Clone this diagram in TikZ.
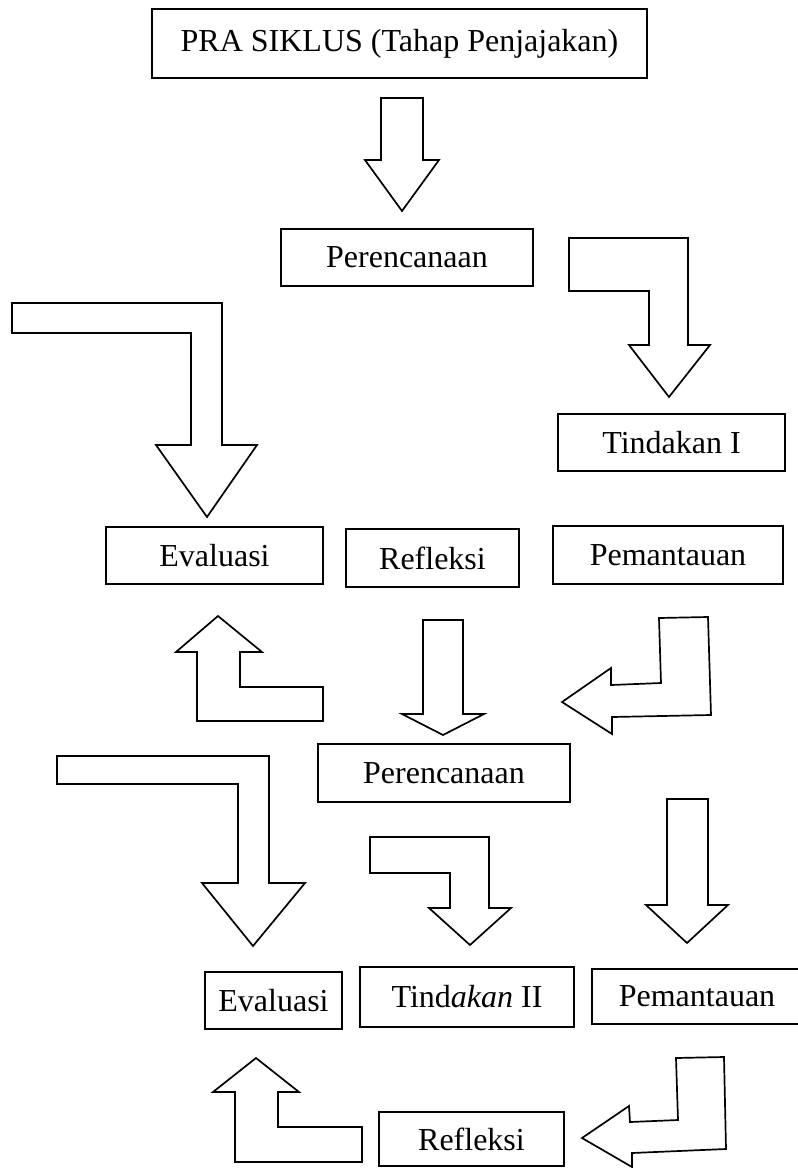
\documentclass[tikz,border=0pt]{standalone}
\usepackage{fontspec}
\setmainfont{Liberation Serif}
\usepackage{tikz}
\usetikzlibrary{positioning}

\tikzset{
  box/.style={draw, line width=1.7pt, inner sep=0pt, align=center},
  blockarrow/.style={draw, line width=1.7pt, line join=miter, fill=white}
}

\begin{document}
\begin{tikzpicture}[x=1pt, y=-1pt, font=\fontsize{32}{38}\selectfont]
		\useasboundingbox (0,0) rectangle (798,1168);
		
		% boxes, cycle I
		\node[box, minimum width=495pt, minimum height=69pt] (pra) at (399.5,43.5) {PRA SIKLUS (Tahap Penjajakan)};
		\node[box, minimum width=252pt, minimum height=57pt] (renA) at (407,257.5) {Perencanaan};
		\node[box, minimum width=227pt, minimum height=57pt] (tinA) at (671.5,442.5) {Tindakan I};
		\node[box, minimum width=217pt, minimum height=57pt] (evaA) at (214.5,555.5) {Evaluasi};
		\node[box, minimum width=173pt, minimum height=58pt] (refA) at (432.5,558) {Refleksi};
		\node[box, minimum width=230pt, minimum height=58pt] (pemA) at (668,555) {Pemantauan};
		
		% boxes, cycle II
		\node[box, minimum width=252pt, minimum height=58pt] (renB) at (444,773) {Perencanaan};
		\node[box, minimum width=137pt, minimum height=57pt] (evaB) at (273.5,1000.5) {Evaluasi};
		\node[box, minimum width=214pt, minimum height=60pt] (tinB) at (467,997) {Tind\textit{akan} II};
		\node[box, minimum width=210pt, minimum height=55pt] (pemB) at (697,996.5) {Pemantauan};
		\node[box, minimum width=185pt, minimum height=54pt] (refB) at (471.5,1139) {Refleksi};
		
		% block arrows, cycle I
		\draw[blockarrow] (381,98) -- (423,98) -- (423,160) -- (439,160) -- (402,211) -- (365,160) -- (381,160) -- cycle;
		\draw[blockarrow] (569,238) -- (688,238) -- (688,345) -- (710,345) -- (669,397) -- (629,345) -- (649,345) -- (649,291) -- (569,291) -- cycle;
		\draw[blockarrow] (12,303) -- (222,303) -- (222,445) -- (257,445) -- (207,517) -- (156,445) -- (191,445) -- (191,333) -- (12,333) -- cycle;
		\draw[blockarrow] (218,616) -- (262,652) -- (240,652) -- (240,687) -- (323,687) -- (323,721) -- (197,721) -- (197,652) -- (176,652) -- cycle;
		\draw[blockarrow] (423,620) -- (463,620) -- (463,714) -- (484,714) -- (443,735) -- (402,714) -- (423,714) -- cycle;
		\draw[blockarrow] (659,618) -- (708,617) -- (711,715) -- (612,717) -- (612,734) -- (562,702) -- (611,668) -- (611,685) -- (661,683) -- cycle;
		
		% block arrows, cycle II
		\draw[blockarrow] (57,756) -- (269,756) -- (269,883) -- (305,883) -- (253,946) -- (202,883) -- (238,883) -- (238,784) -- (57,784) -- cycle;
		\draw[blockarrow] (370,837) -- (489,837) -- (489,908) -- (511,908) -- (470,945) -- (429,908) -- (450,908) -- (450,873) -- (370,873) -- cycle;
		\draw[blockarrow] (667,799) -- (708,799) -- (708,905) -- (728,905) -- (687,943) -- (646,905) -- (667,905) -- cycle;
		\draw[blockarrow] (256,1058) -- (299,1092) -- (278,1092) -- (278,1127) -- (362,1127) -- (362,1162) -- (235,1162) -- (235,1092) -- (213,1092) -- cycle;
		\draw[blockarrow] (676,1058) -- (724,1057) -- (726,1149) -- (632,1153) -- (632,1167) -- (582,1138) -- (629,1106) -- (630,1122) -- (678,1120) -- cycle;
	\end{tikzpicture}
\end{document}
